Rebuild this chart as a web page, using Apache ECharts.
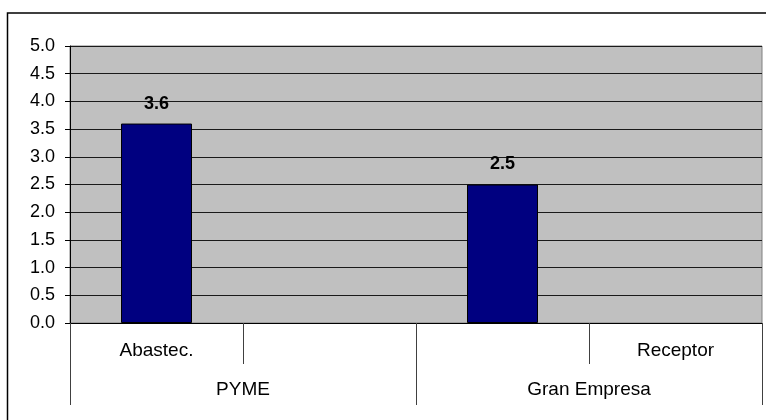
<!DOCTYPE html>
<html>
<head>
<meta charset="utf-8">
<script src="https://cdn.jsdelivr.net/npm/echarts@6/dist/echarts.min.js"></script>
<style>
  html, body { margin: 0; padding: 0; background: #fff; }
  #chart { width: 766px; height: 420px; }
</style>
</head>
<body>
<div id="chart"></div>
<script>
// Sub-categories (inner axis) and company-size groups (outer axis)
const subCategories = ['Abastec.', 'Receptor', 'Abastec.', 'Receptor'];
const groups = ['PYME', 'Gran Empresa'];
// Values per sub-category; Receptor has no value
const values = [3.6, null, 2.5, null];
// Only these inner labels are printed along the axis
const shownSubLabels = [0, 3];
const yTicks = { min: 0, max: 5, step: 0.5 };

const FONT = 'Arial, "Liberation Sans", sans-serif';
const FS = 18;
const FS_CAT = 19;

const chart = echarts.init(document.getElementById('chart'), null, { renderer: 'canvas' });

chart.setOption({
  animation: false,
  backgroundColor: '#ffffff',
  textStyle: { fontFamily: FONT },
  graphic: [{
    type: 'rect',
    shape: { x: 7.5, y: 13, width: 900, height: 600 },
    style: { fill: 'none', stroke: '#000', lineWidth: 1.5 },
    silent: true,
    z: 0
  }],
  grid: {
    left: 70, right: 4, top: 46, bottom: 97,
    show: true,
    backgroundColor: '#C0C0C0',
    borderColor: '#808080',
    borderWidth: 1
  },
  xAxis: [{
    type: 'category',
    data: subCategories,
    position: 'bottom',
    axisLine: { show: true, lineStyle: { color: '#000', width: 1 } },
    axisTick: { show: true, length: 41, lineStyle: { color: '#404040' }, interval: 0 },
    axisLabel: {
      interval: (i) => shownSubLabels.includes(i),
      margin: 18,
      fontSize: FS_CAT,
      color: '#000',
      fontFamily: FONT
    },
    splitLine: { show: false }
  }, {
    type: 'category',
    data: groups,
    position: 'bottom',
    axisLine: { show: false },
    axisTick: { show: true, length: 82, lineStyle: { color: '#404040' }, interval: 0 },
    axisLabel: { margin: 57, fontSize: FS_CAT, color: '#000', fontFamily: FONT },
    splitLine: { show: false }
  }],
  yAxis: {
    type: 'value',
    min: yTicks.min,
    max: yTicks.max,
    interval: yTicks.step,
    axisLine: { show: true, lineStyle: { color: '#000', width: 1 } },
    axisTick: { show: true, length: 5, lineStyle: { color: '#000' } },
    axisLabel: {
      margin: 15,
      fontSize: FS,
      color: '#000',
      fontFamily: FONT,
      formatter: (v) => v.toFixed(1)
    },
    splitLine: { show: true, lineStyle: { color: '#1a1a1a', width: 1 } }
  },
  series: [{
    type: 'bar',
    xAxisIndex: 0,
    data: values,
    barWidth: 71,
    itemStyle: { color: '#000080', borderColor: '#000', borderWidth: 1 },
    label: {
      show: true,
      position: 'top',
      distance: 11,
      fontSize: FS,
      fontWeight: 'bold',
      color: '#000',
      fontFamily: FONT,
      formatter: (p) => (p.value == null ? '' : p.value.toFixed(1))
    }
  }]
});
</script>
</body>
</html>
